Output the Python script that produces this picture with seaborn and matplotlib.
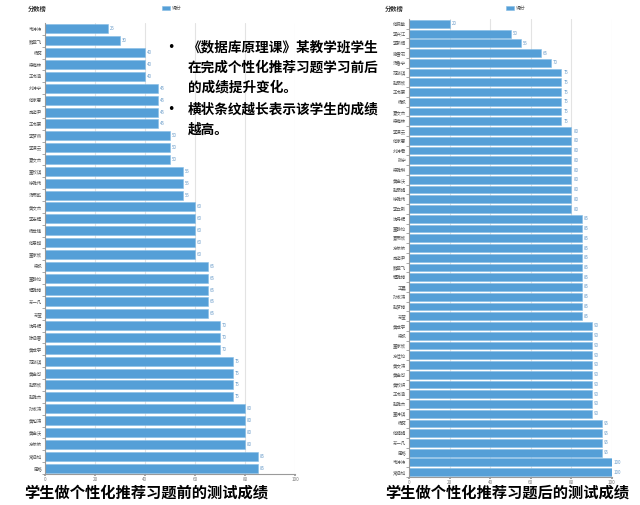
import matplotlib
matplotlib.use("Agg")
import matplotlib.pyplot as plt
import seaborn as sns
import pandas as pd
import numpy as np

sns.set_theme(style="white")
plt.rcParams['font.family'] = ['Noto Sans CJK SC', 'DejaVu Sans']

# ---- data ----
before_names = ["韦诗诗","熊翠飞","杨蕊","梁梅林","王书涵","刘诗宁","何家惠","施迈尹","王书蒙","李梦燕",
                "李潇云","夏文杰","董欣琪","徐雅伟","汤雨乾","黄文杰","李志程","杨世锋","何思甜","董家欣",
                "梁帆","董静怡","程雅婷","苏一凡","苏莹","沈丹妮","陈涵曹","黄成宇","范晓琪","黄金可",
                "赵丽欣","赵雅杰","孙淑涛","黄旭涛","黄金沃","方依依","常涵如","周格"]
before_scores = [25, 30, 40, 40, 40, 45, 45, 45, 45, 50,
                 50, 50, 55, 55, 55, 60, 60, 60, 60, 60,
                 65, 65, 65, 65, 65, 70, 70, 70, 75, 75,
                 75, 75, 80, 80, 80, 80, 85, 85]

after_names = ["何佩敏","李兴江","李新恒","谢雪莉","汤鲁宁","范晓琪","赵丽欣","王书蒙","杨帆","夏文杰",
               "梁梅林","李潇云","何家惠","刘诗君","张宁","梁雅琳","黄金沃","赵丽娟","徐雅伟","李立新",
               "沈丹妮","董静怡","夏雨欣","方依依","施迈尹","熊翠飞","程雅婷","王晨","孙淑涛","赵梦婷",
               "苏莹","黄成宇","梁帆","董家欣","方佳怡","黄文涛","黄金可","黄欣妍","王书涵","赵雅杰",
               "董诗琪","杨蕊","何娟娟","苏一凡","周格","韦诗诗","常涵如"]
after_scores = [20, 50, 55, 65, 70, 75, 75, 75, 75, 75,
                75, 80, 80, 80, 80, 80, 80, 80, 80, 80,
                85, 85, 85, 85, 85, 85, 85, 85, 85, 85,
                85, 90, 90, 90, 90, 90, 90, 90, 90, 90,
                90, 95, 95, 95, 95, 100, 100]

xticks = [0, 20, 40, 60, 80, 100]
chart_title = "分数榜"
legend_label = "得分"
caption_before = "学生做个性化推荐习题前的测试成绩"
caption_after = "学生做个性化推荐习题后的测试成绩"
note_lines = ["《数据库原理课》某教学班学生", "在完成个性化推荐习题学习前后", "的成绩提升变化。",
              "横状条纹越长表示该学生的成绩", "越高。"]

BAR = "#559fd7"
W, H = 640, 505
fig = plt.figure(figsize=(W / 100, H / 100), dpi=100)


def fx(px):
    return px / W


def fy(py):
    return 1 - py / H


def draw(names, scores, x0, x1, y0, y1, bar_h, title_xy, legend_xy):
    ax = fig.add_axes([fx(x0), fy(y1), fx(x1) - fx(x0), (y1 - y0) / H])
    df = pd.DataFrame({"name": names, "score": scores})
    sns.barplot(data=df, y="name", x="score", orient="h", color=BAR, order=names,
                width=bar_h, ax=ax, label=legend_label, edgecolor="#86bde6", linewidth=0.4,
                saturation=1)
    n = len(names)
    ax.set_ylim(n - 0.5, -0.5)
    ax.set_xlim(0, 100)
    ax.set_xticks(xticks)
    ax.set_xlabel("")
    ax.set_ylabel("")
    ax.grid(axis="x", color="#e3e3e3", linewidth=0.8)
    ax.set_axisbelow(True)
    for s in ["top", "right"]:
        ax.spines[s].set_visible(False)
    for s in ["left", "bottom"]:
        ax.spines[s].set_color("#9a9a9a")
        ax.spines[s].set_linewidth(0.8)
    ax.tick_params(axis="y", length=0, labelsize=3.2, labelcolor="#555555", pad=2)
    ax.set_yticks(np.arange(n) + 0.5, minor=True)
    ax.tick_params(axis="y", which="minor", length=2, color="#9a9a9a", width=0.6, left=True)
    ax.tick_params(axis="x", length=1.5, color="#9a9a9a", labelsize=3.3, labelcolor="#777777", pad=0.5,
                   bottom=True)
    for c in ax.containers:
        ax.bar_label(c, fontsize=3.2, color="#6a9cc9", padding=1.5)
    if ax.get_legend() is not None:
        ax.get_legend().remove()
    fig.text(fx(title_xy[0]), fy(title_xy[1]), chart_title, fontsize=4.5, fontweight="bold",
             color="#333333", va="center", ha="left")
    h, l = ax.get_legend_handles_labels()
    fig.legend(h[:1], l[:1], loc="center", bbox_to_anchor=(fx(legend_xy[0]), fy(legend_xy[1])),
               frameon=False, fontsize=3.5, handlelength=1.6, handleheight=0.8, handletextpad=0.4,
               labelcolor="#555555")
    return ax


draw(before_names, before_scores, 45, 295, 23, 474, 0.76, (28, 8), (172, 8))
draw(after_names, after_scores, 409, 612, 19, 477, 0.8, (385, 9), (516, 8))

# captions
fig.text(fx(146), fy(493), caption_before, fontsize=11, fontweight="bold", color="black",
         ha="center", va="center")
fig.text(fx(507), fy(493), caption_after, fontsize=11, fontweight="bold", color="black",
         ha="center", va="center")

# annotation with bullets
ys = [47, 68, 88, 110, 130]
for i, (t, y) in enumerate(zip(note_lines, ys)):
    if i in (0, 3):
        fig.text(fx(171), fy(y), "•", fontsize=9, color="black", ha="center", va="center",
                 family=['DejaVu Sans'])
    fig.text(fx(188), fy(y), t, fontsize=9.8, fontweight="bold", color="black", ha="left",
             va="center")

fig.savefig("out.png", dpi=100)
